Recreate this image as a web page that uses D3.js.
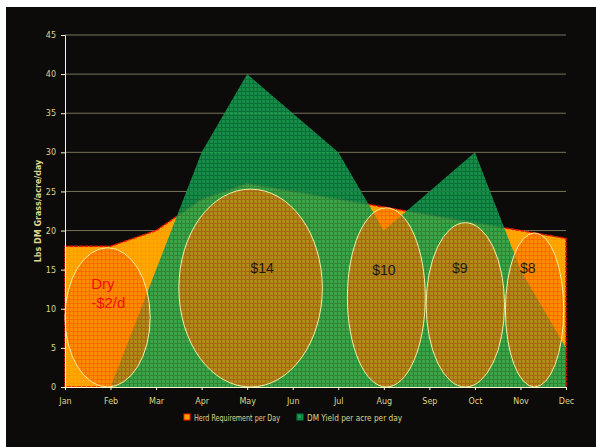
<!DOCTYPE html>
<html>

<head>
    <meta charset="utf-8">
    <script src="https://d3js.org/d3.v7.min.js"></script>
    <style>
        body { margin: 0; background: #ffffff; }
        .tick text { font-family: "DejaVu Sans", sans-serif; }
    </style>
</head>

<body>
    <div id="viz"></div>

    <script>

        // data
        var months = ["Jan", "Feb", "Mar", "Apr", "May", "Jun", "Jul", "Aug", "Sep", "Oct", "Nov", "Dec"];
        var herdReq = [18, 18, 20, 24, 26, 25, 24, 23, 22, 21, 20, 19];
        var dmYield = [0, 0, 15, 30, 40, 35, 30, 20, 25, 30, 15, 5];
        var yTicks = [0, 5, 10, 15, 20, 25, 30, 35, 40, 45];

        // grazing period ellipses (month index span, value span) and their labels
        var ovalFrom = [0, 2.5, 6.2, 7.93, 9.67];
        var ovalTo = [1.87, 5.65, 7.91, 9.65, 10.95];
        var ovalTop = [17.8, 25.3, 22.9, 21, 19.7];
        var labels = ["Dry", "-$2/d", "$14", "$10", "$9", "$8"];
        var labelMonth = [0.83, 0.95, 4.33, 7.0, 8.67, 10.16];
        var labelValue = [12.5, 10.1, 14.6, 14.3, 14.6, 14.6];

        var W = 596, H = 447;
        var margin = { top: 35, right: 30, bottom: 60, left: 65 },
            width = 566 - margin.left,
            height = 387 - margin.top;

        var root = d3.select("#viz")
            .append("svg")
            .attr("width", W)
            .attr("height", H);

        // patterns for the textured fills
        var defs = root.append("defs");
        function pat(id, base, line) {
            var p = defs.append("pattern")
                .attr("id", id)
                .attr("width", 4).attr("height", 4)
                .attr("patternUnits", "userSpaceOnUse");
            p.append("rect").attr("width", 4).attr("height", 4).attr("fill", base);
            p.append("rect").attr("width", 4).attr("height", 1).attr("fill", line);
            p.append("rect").attr("width", 1).attr("height", 4).attr("fill", line);
        }
        pat("pGreen", "#18a452", "#0b8040");
        pat("pOrange", "#ffa800", "#ff9a00");
        pat("pOval", "#ff7a00", "#ff4a00");

        root.append("rect")
            .attr("x", 6).attr("y", 7)
            .attr("width", W - 6).attr("height", H - 7)
            .attr("fill", "#0c0b0a");

        var svg = root.append("g")
            .attr("transform", "translate(" + margin.left + "," + margin.top + ")");

        var x = d3.scaleLinear().domain([0, 11]).range([0, width]);
        var y = d3.scaleLinear().domain([0, 45]).range([height, 0]);

        // gridlines
        svg.selectAll(".grid")
            .data(yTicks.filter(function (d) { return d > 0; }))
            .enter().append("line")
            .attr("x1", 0).attr("x2", width)
            .attr("y1", function (d) { return y(d); })
            .attr("y2", function (d) { return y(d); })
            .attr("stroke", "#77735a")
            .attr("stroke-width", 1);

        // herd requirement area
        var area = d3.area()
            .x(function (d, i) { return x(i); })
            .y0(y(0))
            .y1(function (d) { return y(d); });

        svg.append("path")
            .datum(herdReq)
            .attr("d", function (d) {
                var pts = d.map(function (v, i) { return [x(i), y(v)]; });
                pts.unshift([x(0), y(0)]);
                pts.push([x(11), y(0)]);
                return d3.line()(pts) + "Z";
            })
            .attr("fill", "url(#pOrange)")
            .attr("stroke", "#ee1000")
            .attr("stroke-width", 1.5)
            .attr("stroke-dasharray", "4,1");

        // DM yield area
        svg.append("path")
            .datum(dmYield)
            .attr("d", area)
            .attr("fill", "url(#pGreen)")
            .attr("fill-opacity", 0.85);

        // ellipses
        svg.selectAll(".oval")
            .data(ovalFrom)
            .enter().append("ellipse")
            .attr("cx", function (d, i) { return (x(d) + x(ovalTo[i])) / 2; })
            .attr("cy", function (d, i) { return (y(0) + y(ovalTop[i])) / 2; })
            .attr("rx", function (d, i) { return (x(ovalTo[i]) - x(d)) / 2; })
            .attr("ry", function (d, i) { return (y(0) - y(ovalTop[i])) / 2; })
            .attr("fill", "url(#pOval)")
            .attr("fill-opacity", 0.6)
            .attr("stroke", "#f4eea0")
            .attr("stroke-width", 1);

        svg.selectAll(".lbl")
            .data(labels)
            .enter().append("text")
            .attr("x", function (d, i) { return x(labelMonth[i]); })
            .attr("y", function (d, i) { return y(labelValue[i]); })
            .attr("text-anchor", "middle")
            .attr("font-family", "Liberation Sans, Arial, sans-serif")
            .attr("font-size", function (d, i) { return i < 2 ? 15 : 14; })
            .attr("fill", function (d, i) { return i < 2 ? "#f01010" : "#1e1a10"; })
            .text(function (d) { return d; });

        // axes
        var xAxis = svg.append("g")
            .attr("transform", "translate(0," + height + ")")
            .call(d3.axisBottom(x).tickValues(d3.range(12)).tickSize(3).tickPadding(8)
                .tickFormat(function (d) { return months[d]; }));
        var yAxis = svg.append("g")
            .call(d3.axisLeft(y).tickValues(yTicks).tickSize(4).tickPadding(5));

        [xAxis, yAxis].forEach(function (a) {
            a.select(".domain").attr("stroke", "#fbf8c8");
            a.selectAll(".tick line").attr("stroke", "#fbf8c8");
            a.selectAll(".tick text")
                .attr("fill", "#dcd68a")
                .attr("font-size", 8);
        });

        // y title
        root.append("text")
            .attr("transform", "translate(41,211) rotate(-90)")
            .attr("text-anchor", "middle")
            .attr("font-family", "DejaVu Sans, sans-serif")
            .attr("font-size", 8)
            .attr("font-weight", "bold")
            .attr("fill", "#dcd68a")
            .text("Lbs DM Grass/acre/day");

        // legend
        var legend = root.append("g").attr("transform", "translate(184,414)");
        var legItems = ["Herd Requirement per Day", "DM Yield per acre per day"];
        var legX = [0, 113];
        var legLen = [86, 95];
        legItems.forEach(function (t, i) {
            var g = legend.append("g").attr("transform", "translate(" + legX[i] + ",0)");
            g.append("rect")
                .attr("width", 6).attr("height", 6)
                .attr("fill", i == 0 ? "#ffa000" : "url(#pGreen)")
                .attr("stroke", i == 0 ? "#ff2000" : "#0b8040")
                .attr("stroke-width", 1);
            g.append("text")
                .attr("x", 10).attr("y", 6.5)
                .attr("font-family", "DejaVu Sans, sans-serif")
                .attr("font-size", 8)
                .attr("textLength", legLen[i])
                .attr("lengthAdjust", "spacingAndGlyphs")
                .attr("fill", "#dcd68a")
                .text(t);
        });

    </script>
</body>

</html>
